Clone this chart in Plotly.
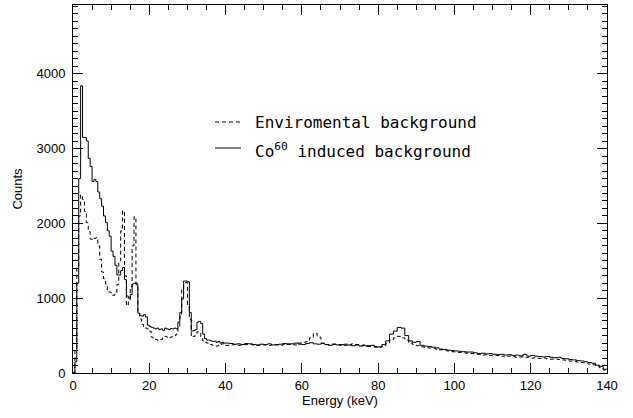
import numpy as np
import plotly.graph_objects as go

# Bin left edges (keV): 0.5 keV bins up to 40 keV, 1 keV bins up to 140 keV
energy_lo = [0.5 * i for i in range(80)]
energy_hi = [40 + i for i in range(100)]

co60_lo = [0, 150, 1200, 2600, 3840, 3150, 3150, 3100, 2870, 2760,
           2560, 2590, 2560, 2420, 2330, 2230, 2100, 2010, 1900, 1830,
           1630, 1560, 1440, 1310, 1310, 1370, 1410, 1250, 1030, 1000,
           1050, 1190, 1200, 1180, 800, 770, 760, 780, 750, 640,
           620, 610, 600, 590, 600, 580, 590, 570, 600, 590,
           580, 595, 590, 600, 590, 680, 810, 990, 1230, 1230,
           1220, 810, 560, 570, 580, 680, 690, 660, 520, 460,
           440, 440, 430, 420, 425, 410, 420, 400, 410, 400]
co60_hi = [400, 395, 385, 390, 380, 395, 390, 380, 375, 385,
           380, 390, 375, 380, 385, 395, 380, 390, 400, 385,
           380, 395, 405, 390, 385, 395, 380, 370, 385, 375,
           380, 370, 375, 365, 375, 360, 365, 355, 370, 345,
           350, 380, 430, 520, 560, 610, 600, 500, 430, 410,
           420, 370, 360, 355, 345, 335, 320, 315, 305, 300,
           295, 290, 285, 280, 280, 270, 260, 265, 255, 260,
           250, 245, 250, 240, 245, 235, 240, 230, 250, 225,
           235, 225, 220, 215, 220, 210, 205, 210, 195, 190,
           180, 175, 165, 160, 150, 140, 130, 105, 90, 50]

env_lo = [0, 300, 1400, 2100, 2380, 2320, 2160, 2010, 1890, 1790,
          1780, 1800, 1810, 1700, 1520, 1350, 1260, 1190, 1100, 1080,
          1040, 1040, 1060, 1180, 1500, 1900, 2170, 1300, 900, 950,
          1150, 1700, 2090, 1200, 800, 720, 650, 620, 600, 590,
          560, 480, 460, 450, 440, 440, 450, 470, 490, 480,
          470, 480, 490, 500, 520, 600, 760, 1120, 1200, 1210,
          900, 720, 480, 490, 520, 550, 540, 480, 430, 410,
          400, 390, 380, 370, 365, 360, 370, 380, 390, 395]
env_hi = [370, 375, 380, 370, 375, 380, 385, 375, 370, 380,
          375, 370, 380, 375, 370, 380, 390, 380, 375, 400,
          410, 420, 470, 530, 480, 400, 380, 375, 385, 380,
          370, 385, 375, 390, 380, 370, 375, 365, 360, 355,
          345, 360, 400, 440, 470, 490, 470, 440, 400, 380,
          365, 350, 345, 335, 330, 320, 310, 300, 295, 285,
          280, 275, 270, 265, 260, 255, 250, 240, 245, 235,
          230, 235, 225, 215, 225, 220, 210, 215, 205, 210,
          200, 205, 195, 200, 190, 185, 190, 180, 175, 165,
          160, 155, 145, 140, 130, 120, 110, 90, 70, 40]

x_ticks = [0, 20, 40, 60, 80, 100, 120, 140]
y_ticks = [0, 1000, 2000, 3000, 4000]

energy = energy_lo + energy_hi + [140]
co60 = co60_lo + co60_hi + [co60_hi[-1]]
env = env_lo + env_hi + [env_hi[-1]]

fig = go.Figure()
fig.add_trace(go.Scatter(x=energy, y=env, mode="lines", line_shape="hv",
                         line=dict(color="black", width=1, dash="4px,3px"),
                         name="Enviromental background", showlegend=False))
fig.add_trace(go.Scatter(x=energy, y=co60, mode="lines", line_shape="hv",
                         line=dict(color="black", width=1),
                         name="Co60 induced background", showlegend=False))

L, R, T, B = 73, 26, 5, 45
W, H = 633, 418
pw, ph = W - L - R, H - T - B

def px(xp):
    return (xp - L) / pw

def py(yp):
    return (H - B - yp) / ph

LEG_FONT = dict(family="DejaVu Sans Mono", size=16, color="black")
TXT_FONT = dict(family="Liberation Sans", size=13, color="black")

# manual legend
fig.add_shape(type="line", xref="paper", yref="paper", x0=px(215), x1=px(243),
              y0=py(122), y1=py(122), line=dict(color="black", width=1, dash="4px,3px"))
fig.add_shape(type="line", xref="paper", yref="paper", x0=px(215), x1=px(241),
              y0=py(148), y1=py(148), line=dict(color="black", width=1))
fig.add_annotation(xref="paper", yref="paper", x=px(253), y=py(122), xanchor="left",
                   yanchor="middle", showarrow=False, text="Enviromental background",
                   font=LEG_FONT)
fig.add_annotation(xref="paper", yref="paper", x=px(253), y=py(150), xanchor="left",
                   yanchor="middle", showarrow=False,
                   text="Co<sup>60</sup> induced background",
                   font=LEG_FONT)

axis_common = dict(showline=True, linecolor="black", linewidth=1, mirror="allticks",
                   ticks="inside", ticklen=10, tickwidth=1, tickcolor="black",
                   showgrid=False, zeroline=False, tickfont=TXT_FONT)

fig.update_xaxes(range=[0, 140], tickvals=x_ticks, ticktext=[str(v) for v in x_ticks],
                 minor=dict(dtick=5, ticklen=5, ticks="inside", tickcolor="black"),
                 title=dict(text="Energy (keV)", standoff=3, font=TXT_FONT),
                 **axis_common)
fig.update_yaxes(range=[0, 4920], tickvals=y_ticks, ticktext=[str(v) for v in y_ticks],
                 minor=dict(dtick=100, ticklen=5, ticks="inside", tickcolor="black"),
                 title=dict(text="Counts", standoff=10, font=TXT_FONT),
                 ticklabelstandoff=4,
                 **axis_common)

fig.update_layout(width=W, height=H, margin=dict(l=L, r=R, t=T, b=B),
                  plot_bgcolor="white", paper_bgcolor="white")

fig.write_html("out.html")
